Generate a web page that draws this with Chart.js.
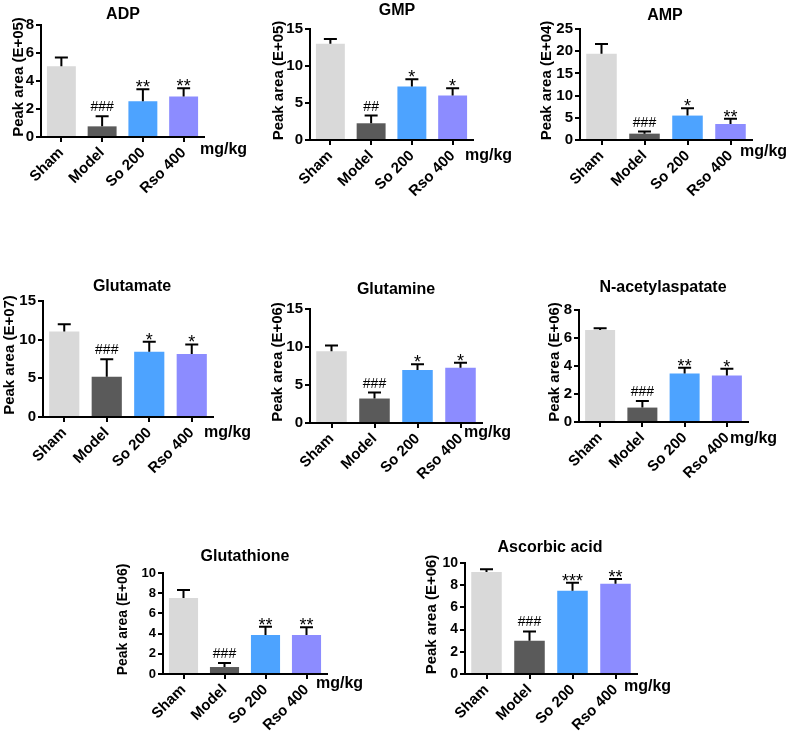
<!DOCTYPE html>
<html>
<head>
<meta charset="utf-8">
<script src="https://cdn.jsdelivr.net/npm/chart.js@4.4.1/dist/chart.umd.min.js"></script>
<style>
  html, body { margin: 0; padding: 0; background: #fff; overflow: hidden; }
  #wrap { position: relative; width: 787px; height: 736px; }
  #wrap canvas { position: absolute; }
</style>
</head>
<body>
<div id="wrap"></div>
<script>
// Groups and colours
const groups = ['Sham', 'Model', 'So 200', 'Rso 400'];
const groupColors = ['#d9d9d9', '#5a5a5a', '#4da3ff', '#8c8cff'];

// Means and SEM
const adpMean = [5.06, 0.76, 2.55, 2.89];
const adpSem = [0.62, 0.72, 0.86, 0.59];
const adpMarks = ['', '###', '**', '**'];

const gmpMean = [13.0, 2.26, 7.23, 6.0];
const gmpSem = [0.65, 1.04, 0.99, 1.0];
const gmpMarks = ['', '##', '*', '*'];

const ampMean = [19.4, 1.43, 5.5, 3.6];
const ampSem = [2.2, 0.47, 1.65, 1.2];
const ampMarks = ['', '###', '*', '**'];

const glutamateMean = [11.06, 5.19, 8.44, 8.14];
const glutamateSem = [0.94, 2.27, 1.29, 1.25];
const glutamateMarks = ['', '###', '*', '*'];

const glutamineMean = [9.44, 3.22, 6.97, 7.28];
const glutamineSem = [0.75, 0.79, 0.75, 0.66];
const glutamineMarks = ['', '###', '*', '*'];

const naaMean = [6.57, 1.03, 3.46, 3.32];
const naaSem = [0.12, 0.47, 0.41, 0.48];
const naaMarks = ['', '###', '**', '*'];

const gshMean = [7.53, 0.69, 3.85, 3.85];
const gshSem = [0.79, 0.4, 0.82, 0.79];
const gshMarks = ['', '###', '**', '**'];

const ascMean = [9.19, 2.99, 7.49, 8.14];
const ascSem = [0.24, 0.84, 0.74, 0.42];
const ascMarks = ['', '###', '***', '**'];

const FONT = "'Liberation Sans', Arial, Helvetica, sans-serif";

// Panel placement on the page
const panels = [
  { title: 'ADP', unit: 'Peak area (E+05)', mean: adpMean, sem: adpSem, marks: adpMarks, max: 8, step: 2,
    ax: 41, top: 25, zero: 137, right: 204, titleX: 123, titleY: 15, yTitleX: 19, mgX: 200, mgY: 150, tick: 15, yFont: 15 },
  { title: 'GMP', unit: 'Peak area (E+05)', mean: gmpMean, sem: gmpSem, marks: gmpMarks, max: 15, step: 5,
    ax: 310, top: 29, zero: 140, right: 473, titleX: 397, titleY: 11, yTitleX: 279, mgX: 465, mgY: 156, tick: 15, yFont: 15 },
  { title: 'AMP', unit: 'Peak area (E+04)', mean: ampMean, sem: ampSem, marks: ampMarks, max: 25, step: 5,
    ax: 580, top: 29, zero: 140, right: 752, titleX: 665, titleY: 16, yTitleX: 547, mgX: 740, mgY: 152, tick: 15, yFont: 15 },
  { title: 'Glutamate', unit: 'Peak area (E+07)', mean: glutamateMean, sem: glutamateSem, marks: glutamateMarks, max: 15, step: 5,
    ax: 43, top: 301, zero: 417, right: 213, titleX: 132, titleY: 287, yTitleX: 10, mgX: 204, mgY: 433, tick: 15, yFont: 15 },
  { title: 'Glutamine', unit: 'Peak area (E+06)', mean: glutamineMean, sem: glutamineSem, marks: glutamineMarks, max: 15, step: 5,
    ax: 310, top: 309, zero: 423, right: 482, titleX: 396, titleY: 290, yTitleX: 278, mgX: 464, mgY: 433, tick: 15, yFont: 15 },
  { title: 'N-acetylaspatate', unit: 'Peak area (E+06)', mean: naaMean, sem: naaSem, marks: naaMarks, max: 8, step: 2,
    ax: 579, top: 310, zero: 422, right: 748, titleX: 663, titleY: 288, yTitleX: 555, mgX: 730, mgY: 439, tick: 15, yFont: 15 },
  { title: 'Glutathione', unit: 'Peak area (E+06)', mean: gshMean, sem: gshSem, marks: gshMarks, max: 10, step: 2,
    ax: 163, top: 573, zero: 674, right: 327, titleX: 245, titleY: 557, yTitleX: 123, mgX: 316, mgY: 684, tick: 13, yFont: 14 },
  { title: 'Ascorbic acid', unit: 'Peak area (E+06)', mean: ascMean, sem: ascSem, marks: ascMarks, max: 10, step: 2,
    ax: 465, top: 563, zero: 674, right: 637, titleX: 550, titleY: 548, yTitleX: 432, mgX: 624, mgY: 687, tick: 14, yFont: 15 }
];

const LEFT_SPACE = 60, TOP_SPACE = 35, RIGHT_SPACE = 70, BOTTOM_SPACE = 75;

// Error bars, significance marks and the extra texts
const extrasPlugin = {
  id: 'extras',
  afterDatasetsDraw(chart) {
    const p = chart.options.plugins.extras.panel;
    const ctx = chart.ctx;
    const meta = chart.getDatasetMeta(0);
    const y = chart.scales.y;
    ctx.save();
    ctx.strokeStyle = '#000';
    ctx.fillStyle = '#000';
    ctx.lineWidth = 2;
    meta.data.forEach((bar, i) => {
      const yb = y.getPixelForValue(p.mean[i]);
      const yt = y.getPixelForValue(p.mean[i] + p.sem[i]);
      ctx.beginPath();
      ctx.moveTo(bar.x, yb);
      ctx.lineTo(bar.x, yt);
      ctx.moveTo(bar.x - 6.5, yt);
      ctx.lineTo(bar.x + 6.5, yt);
      ctx.stroke();
      const m = p.marks[i];
      if (m) {
        ctx.textAlign = 'center';
        ctx.textBaseline = 'alphabetic';
        if (m[0] === '*') {
          ctx.font = '18px ' + FONT;
          ctx.fillText(m, bar.x, yt + 4);
        } else {
          ctx.font = '14px ' + FONT;
          ctx.fillText(m, bar.x, yt - 5);
        }
      }
    });
    const ox = p.ax - LEFT_SPACE, oy = p.top - TOP_SPACE;
    // panel title
    ctx.font = 'bold 16px ' + FONT;
    ctx.textAlign = 'center';
    ctx.textBaseline = 'middle';
    ctx.fillText(p.title, p.titleX - ox, p.titleY - oy);
    // unit label
    ctx.textAlign = 'left';
    ctx.fillText('mg/kg', p.mgX - ox, p.mgY - oy);
    // y title
    ctx.font = 'bold ' + p.yFont + 'px ' + FONT;
    ctx.translate(p.yTitleX - ox, (p.top + p.zero) / 2 - 4 - oy);
    ctx.rotate(-Math.PI / 2);
    ctx.textAlign = 'center';
    ctx.fillText(p.unit, 0, 0);
    ctx.restore();
  }
};

const wrap = document.getElementById('wrap');

panels.forEach(p => {
  const canvas = document.createElement('canvas');
  const left = p.ax - LEFT_SPACE;
  const top = p.top - TOP_SPACE;
  const w = p.right - left + RIGHT_SPACE;
  const h = p.zero - top + BOTTOM_SPACE;
  canvas.style.left = left + 'px';
  canvas.style.top = top + 'px';
  canvas.style.width = w + 'px';
  canvas.style.height = h + 'px';
  canvas.width = w;
  canvas.height = h;
  wrap.appendChild(canvas);

  new Chart(canvas, {
    type: 'bar',
    data: {
      labels: groups,
      datasets: [{
        data: p.mean,
        backgroundColor: groupColors,
        borderWidth: 0,
        barPercentage: 0.71,
        categoryPercentage: 1
      }]
    },
    options: {
      responsive: false,
      animation: false,
      layout: { padding: { left: 0, top: TOP_SPACE, right: RIGHT_SPACE, bottom: 0 } },
      plugins: {
        legend: { display: false },
        tooltip: { enabled: false },
        title: { display: false },
        extras: { panel: p }
      },
      scales: {
        x: {
          afterFit: s => { s.height = BOTTOM_SPACE; },
          grid: { display: true, drawOnChartArea: false, offset: false, tickLength: 5, color: '#000', lineWidth: 2 },
          border: { display: true, color: '#000', width: 2 },
          ticks: {
            color: '#000', minRotation: 45, maxRotation: 45, padding: 2,
            font: { family: FONT, size: 15, weight: 'bold' }
          }
        },
        y: {
          min: 0, max: p.max,
          afterFit: s => { s.width = LEFT_SPACE; },
          grid: { display: true, drawOnChartArea: false, tickLength: 5, color: '#000', lineWidth: 2 },
          border: { display: true, color: '#000', width: 2 },
          ticks: {
            stepSize: p.step, color: '#000', padding: 2,
            font: { family: FONT, size: p.tick, weight: 'bold' }
          }
        }
      }
    },
    plugins: [extrasPlugin]
  });
});
</script>
</body>
</html>
